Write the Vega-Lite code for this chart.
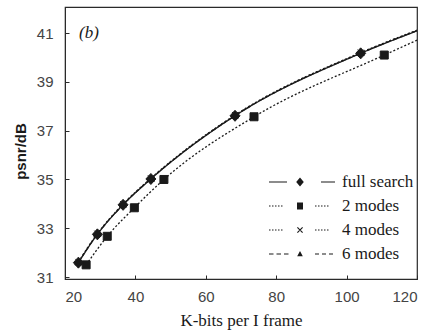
{
  "$schema": "https://vega.github.io/schema/vega-lite/v6.json",
  "width": 352,
  "height": 272,
  "autosize": {"type": "none"},
  "padding": {"left": 65, "top": 7, "right": 13, "bottom": 55},
  "background": "white",
  "config": {
    "view": {"stroke": "#2a2a2a", "strokeWidth": 1.2},
    "axis": {"grid": false, "domainColor": "#2a2a2a", "tickColor": "#2a2a2a", "labelFont": "Liberation Sans", "labelFontSize": 15, "labelColor": "#444", "titleColor": "#1a1a1a"}
  },
  "datasets": {
    "pts": [
      {"series": "4 modes", "x": 23.8, "y": 31.62},
      {"series": "4 modes", "x": 29.2, "y": 32.78},
      {"series": "4 modes", "x": 36.5, "y": 33.99},
      {"series": "4 modes", "x": 44.4, "y": 35.05},
      {"series": "4 modes", "x": 68.3, "y": 37.64},
      {"series": "4 modes", "x": 104, "y": 40.2},
      {"series": "6 modes", "x": 23.8, "y": 31.6},
      {"series": "6 modes", "x": 29.2, "y": 32.76},
      {"series": "6 modes", "x": 36.5, "y": 33.97},
      {"series": "6 modes", "x": 44.4, "y": 35.03},
      {"series": "6 modes", "x": 68.3, "y": 37.62},
      {"series": "6 modes", "x": 104, "y": 40.18},
      {"series": "2 modes", "x": 26.0, "y": 31.5},
      {"series": "2 modes", "x": 32.0, "y": 32.67},
      {"series": "2 modes", "x": 39.7, "y": 33.84},
      {"series": "2 modes", "x": 48.1, "y": 35.0},
      {"series": "2 modes", "x": 73.7, "y": 37.57},
      {"series": "2 modes", "x": 110.7, "y": 40.1},
      {"series": "full search", "x": 23.8, "y": 31.59},
      {"series": "full search", "x": 29.2, "y": 32.75},
      {"series": "full search", "x": 36.5, "y": 33.96},
      {"series": "full search", "x": 44.4, "y": 35.02},
      {"series": "full search", "x": 68.3, "y": 37.61},
      {"series": "full search", "x": 104, "y": 40.17}
    ],
    "curve": [
      {"series": "full search", "x": 23.8, "y": 31.59},
      {"series": "full search", "x": 29.2, "y": 32.75},
      {"series": "full search", "x": 36.5, "y": 33.96},
      {"series": "full search", "x": 44.4, "y": 35.02},
      {"series": "full search", "x": 68.3, "y": 37.61},
      {"series": "full search", "x": 104, "y": 40.17},
      {"series": "full search", "x": 120, "y": 41.09},
      {"series": "2 modes", "x": 26.0, "y": 31.5},
      {"series": "2 modes", "x": 32.0, "y": 32.67},
      {"series": "2 modes", "x": 39.7, "y": 33.84},
      {"series": "2 modes", "x": 48.1, "y": 35.0},
      {"series": "2 modes", "x": 73.7, "y": 37.57},
      {"series": "2 modes", "x": 110.7, "y": 40.1},
      {"series": "2 modes", "x": 120, "y": 40.71},
      {"series": "4 modes", "x": 23.8, "y": 31.62},
      {"series": "4 modes", "x": 29.2, "y": 32.78},
      {"series": "4 modes", "x": 36.5, "y": 33.99},
      {"series": "4 modes", "x": 44.4, "y": 35.05},
      {"series": "4 modes", "x": 68.3, "y": 37.64},
      {"series": "4 modes", "x": 104, "y": 40.2},
      {"series": "4 modes", "x": 120, "y": 41.12},
      {"series": "6 modes", "x": 23.8, "y": 31.6},
      {"series": "6 modes", "x": 29.2, "y": 32.76},
      {"series": "6 modes", "x": 36.5, "y": 33.97},
      {"series": "6 modes", "x": 44.4, "y": 35.03},
      {"series": "6 modes", "x": 68.3, "y": 37.62},
      {"series": "6 modes", "x": 104, "y": 40.18},
      {"series": "6 modes", "x": 120, "y": 41.1}
    ],
    "note": [{"x": 26.8, "y": 41.0, "label": "(b)"}]
  },
  "layer": [
    {
      "data": {"name": "curve"},
      "mark": {"type": "line", "interpolate": "monotone", "color": "#1a1a1a", "strokeWidth": 1.3, "clip": true},
      "encoding": {
        "x": {"field": "x", "type": "quantitative", "scale": {"domain": [20, 120], "nice": false, "zero": false},
          "axis": {"values": [20, 40, 60, 80, 100, 120], "tickSize": -4, "labelPadding": 14, "title": "K-bits per I frame", "titleFont": "Liberation Serif", "titleFontSize": 17, "titleFontWeight": "normal", "titlePadding": 8}},
        "y": {"field": "y", "type": "quantitative", "scale": {"domain": [30.92, 42.07], "nice": false, "zero": false},
          "axis": {"values": [31, 33, 35, 37, 39, 41], "tickSize": -4, "labelPadding": 16, "title": "psnr/dB", "titleFont": "Liberation Sans", "titleFontSize": 15, "titleFontWeight": "bold", "titlePadding": 8, "titleY": 144}},
        "detail": {"field": "series"},
        "strokeDash": {"field": "series", "type": "nominal", "scale": {"domain": ["full search", "2 modes", "4 modes", "6 modes"], "range": [[1, 0], [2, 2], [2, 2], [4, 3]]}, "legend": null}
      }
    },
    {
      "data": {"name": "pts"},
      "mark": {"type": "point", "filled": true, "fill": "#1a1a1a", "stroke": "#1a1a1a", "strokeWidth": 1, "opacity": 1, "size": 100},
      "encoding": {
        "x": {"field": "x", "type": "quantitative"},
        "y": {"field": "y", "type": "quantitative"},
        "shape": {"field": "series", "type": "nominal", "scale": {"domain": ["full search", "2 modes", "4 modes", "6 modes"], "range": ["M0,-1.1L1,0L0,1.1L-1,0Z", "M-0.8,-0.8H0.8V0.8H-0.8Z", "M-0.6,-0.6L0.6,0.6M-0.6,0.6L0.6,-0.6", "M0,-0.7L0.7,0.5H-0.7Z"]}, "legend": null}
      }
    },
    {
      "data": {"name": "pts"},
      "transform": [{"filter": "datum.x < 0"}],
      "mark": {"type": "point", "filled": true, "fill": "#1a1a1a", "stroke": "#1a1a1a", "strokeWidth": 0, "opacity": 1, "size": 400},
      "encoding": {
        "x": {"field": "x", "type": "quantitative"},
        "y": {"field": "y", "type": "quantitative"},
        "shape": {"field": "series", "type": "nominal",
          "scale": {"domain": ["full search", "2 modes", "4 modes", "6 modes"],
            "range": [
              "M-3.1,-0.06H-1.3V0.06H-3.1ZM2.1,-0.06H3.5V0.06H2.1ZM0,-0.45L0.38,0L0,0.45L-0.38,0Z",
              "M-3.1,-0.05H-2.95V0.05H-3.1ZM-2.8,-0.05H-2.65V0.05H-2.8ZM-2.5,-0.05H-2.35V0.05H-2.5ZM-2.2,-0.05H-2.05V0.05H-2.2ZM-1.9,-0.05H-1.75V0.05H-1.9ZM1.5,-0.05H1.65V0.05H1.5ZM1.8,-0.05H1.95V0.05H1.8ZM2.1,-0.05H2.25V0.05H2.1ZM2.4,-0.05H2.55V0.05H2.4ZM2.7,-0.05H2.85V0.05H2.7ZM-0.3,-0.35H0.3V0.35H-0.3Z",
              "M-3.1,-0.05H-2.95V0.05H-3.1ZM-2.8,-0.05H-2.65V0.05H-2.8ZM-2.5,-0.05H-2.35V0.05H-2.5ZM-2.2,-0.05H-2.05V0.05H-2.2ZM-1.9,-0.05H-1.75V0.05H-1.9ZM1.5,-0.05H1.65V0.05H1.5ZM1.8,-0.05H1.95V0.05H1.8ZM2.1,-0.05H2.25V0.05H2.1ZM2.4,-0.05H2.55V0.05H2.4ZM2.7,-0.05H2.85V0.05H2.7ZM-0.3,-0.22L-0.22,-0.3L0.3,0.22L0.22,0.3ZM-0.3,0.22L0.22,-0.3L0.3,-0.22L-0.22,0.3Z",
              "M-3.1,-0.05H-2.65V0.05H-3.1ZM-2.35,-0.05H-1.9V0.05H-2.35ZM-1.6,-0.05H-1.15V0.05H-1.6ZM1.5,-0.05H1.9V0.05H1.5ZM2.2,-0.05H2.6V0.05H2.2ZM2.9,-0.05H3.3V0.05H2.9ZM0,-0.3L0.28,0.22H-0.28Z"
            ]},
          "legend": {"orient": "none", "legendX": 225, "legendY": 165, "title": null, "padding": 0,
            "symbolSize": 400, "symbolFillColor": "#1a1a1a", "symbolStrokeColor": "#1a1a1a", "symbolStrokeWidth": 0, "symbolOpacity": 1,
            "labelFont": "Liberation Serif", "labelFontSize": 17, "labelColor": "#1a1a1a", "labelOffset": 32, "rowPadding": 6}}
      }
    },
    {
      "data": {"name": "note"},
      "mark": {"type": "text", "font": "Liberation Serif", "fontStyle": "italic", "fontSize": 17, "color": "#1a1a1a", "align": "center", "baseline": "middle"},
      "encoding": {
        "x": {"field": "x", "type": "quantitative"},
        "y": {"field": "y", "type": "quantitative"},
        "text": {"field": "label"}
      }
    }
  ],
  "resolve": {"scale": {"shape": "independent"}}
}
